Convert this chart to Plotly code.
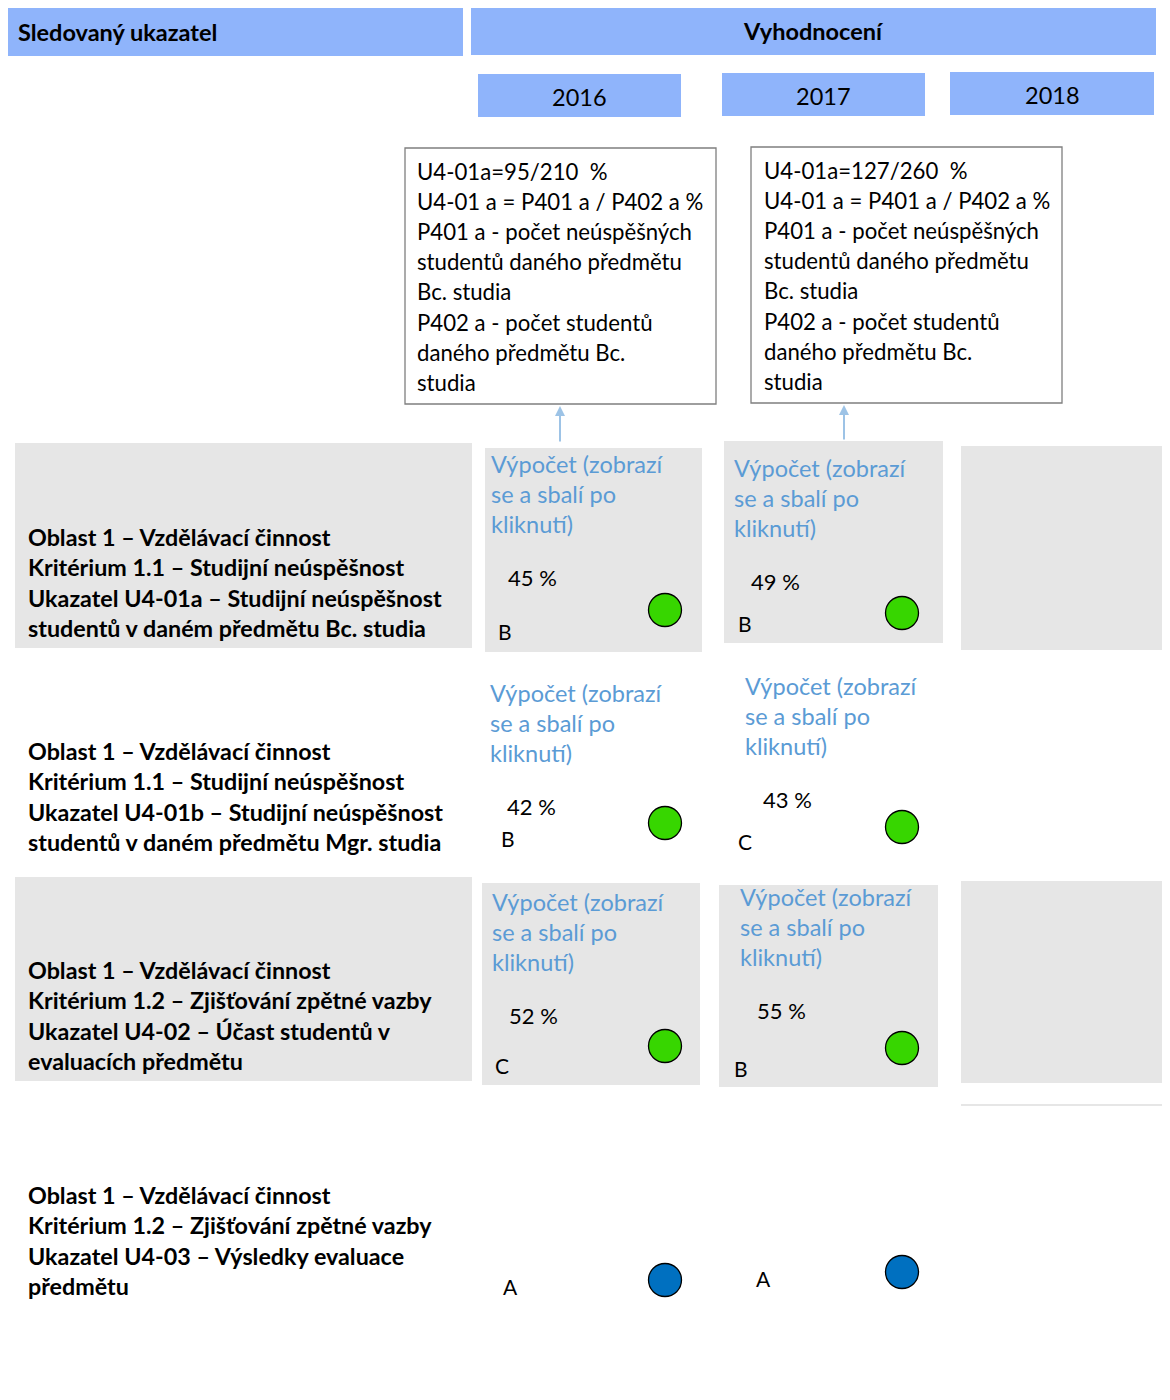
import plotly.graph_objects as go

# ---------------- data ----------------
years = ["2016", "2017", "2018"]
indicator_labels = [
    ["Oblast 1 – Vzdělávací činnost", "Kritérium 1.1 – Studijní neúspěšnost",
     "Ukazatel U4-01a – Studijní neúspěšnost", "studentů v daném předmětu Bc. studia"],
    ["Oblast 1 – Vzdělávací činnost", "Kritérium 1.1 – Studijní neúspěšnost",
     "Ukazatel U4-01b – Studijní neúspěšnost", "studentů v daném předmětu Mgr. studia"],
    ["Oblast 1 – Vzdělávací činnost", "Kritérium 1.2 – Zjišťování zpětné vazby",
     "Ukazatel U4-02 – Účast studentů v", "evaluacích předmětu"],
    ["Oblast 1 – Vzdělávací činnost", "Kritérium 1.2 – Zjišťování zpětné vazby",
     "Ukazatel U4-03 – Výsledky evaluace", "předmětu"],
]
pct_2016 = [45, 42, 52, None]
pct_2017 = [49, 43, 55, None]
grade_2016 = ["B", "B", "C", "A"]
grade_2017 = ["B", "C", "B", "A"]
status_2016 = ["green", "green", "green", "blue"]
status_2017 = ["green", "green", "green", "blue"]
calc_text = ["Výpočet (zobrazí", "se a sbalí po", "kliknutí)"]
formula_2016 = ["U4-01a=95/210  %", "U4-01 a = P401 a / P402 a %", "P401 a - počet neúspěšných",
                "studentů daného předmětu", "Bc. studia", "P402 a - počet studentů",
                "daného předmětu Bc.", "studia"]
formula_2017 = ["U4-01a=127/260  %", "U4-01 a = P401 a / P402 a %", "P401 a - počet neúspěšných",
                "studentů daného předmětu", "Bc. studia", "P402 a - počet studentů",
                "daného předmětu Bc.", "studia"]

# ---------------- styles ----------------
HDR = "#8FB4FB"
GRAY = "#E6E6E6"
BLUE_TXT = "#5B9BD5"
STATUS_COL = {"green": "#37D600", "blue": "#0070C0"}
FONT = "Lato"

# page body has an 8px margin; map data coords to page pixels
OFF = 8
W, H = 1170, 1400
fig = go.Figure()
shapes = []
ann = []


def rect(x0, y0, x1, y1, fill, line=None, lw=0):
    shapes.append(dict(type="rect", xref="x", yref="y", x0=x0, x1=x1, y0=y0, y1=y1,
                       fillcolor=fill, line=dict(color=line or fill, width=lw), layer="below"))


def text(x, y, s, size=21, color="#000", bold=False, anchor="left"):
    if bold:
        s = "<b>" + s + "</b>"
    ann.append(dict(x=x - (2 if anchor == "left" else 0), y=y, xref="x", yref="y", text=s,
                    showarrow=False, xanchor=anchor, yanchor="middle",
                    font=dict(family=FONT, size=size, color=color)))


# header
rect(5, 7, 463, 56, HDR)
rect(471, 7, 1156, 55, HDR)
text(18, 32, "Sledovaný ukazatel", 23.5, bold=True)
text(813, 31, "Vyhodnocení", 23.5, bold=True, anchor="center")
year_boxes = [(478, 74, 681, 117), (722, 73, 925, 116), (950, 72, 1154, 115)]
for (x0, y0, x1, y1), yr in zip(year_boxes, years):
    rect(x0, y0, x1, y1, HDR)
    text((x0 + x1) / 2, (y0 + y1) / 2 + 1, yr, 23.5, anchor="center")

# formula boxes
for (x0, y0, x1, y1), lines, tx, ty in [((405, 148, 716, 404), formula_2016, 417, 171),
                                        ((751, 147, 1062, 403), formula_2017, 764, 170)]:
    shapes.append(dict(type="rect", xref="x", yref="y", x0=x0, x1=x1, y0=y0, y1=y1,
                       fillcolor="white", line=dict(color="#7F7F7F", width=1.3)))
    for i, l in enumerate(lines):
        text(tx, ty + i * 30.2, l, 22.2)

# arrows
for ax, ay0, ay1 in [(560, 443, 406), (844, 441, 405)]:
    ann.append(dict(x=ax, y=ay1, ax=ax, ay=ay0, xref="x", yref="y", axref="x", ayref="y",
                    text="", showarrow=True, arrowhead=2, arrowsize=1, arrowwidth=2,
                    arrowcolor="#9DC3E6"))

# gray rows
gray_boxes = [
    (15, 443, 472, 648), (485, 448, 702, 652), (724, 441, 943, 643), (961, 446, 1170, 650),
    (15, 877, 472, 1081), (482, 883, 700, 1085), (719, 885, 938, 1087), (961, 881, 1170, 1083),
]
for b in gray_boxes:
    rect(*b, GRAY)
shapes.append(dict(type="line", xref="x", yref="y", x0=961, x1=1170, y0=1105, y1=1105,
                   line=dict(color="#E6E6E6", width=2)))

# left labels
label_y = [537, 751, 970, 1195]
for yy, lines in zip(label_y, indicator_labels):
    for i, l in enumerate(lines):
        text(28, yy + i * 30.3, l, 23.3, bold=True)

# calculation texts
calc_pos_2016 = [(491, 464), (490, 693), (492, 902)]
calc_pos_2017 = [(734, 468), (745, 686), (740, 897)]
for (cx, cy) in calc_pos_2016 + calc_pos_2017:
    for i, l in enumerate(calc_text):
        text(cx, cy + i * 30, l, 23.5, color=BLUE_TXT)

# percentages
pct_pos_2016 = [(508, 577), (507, 806), (509, 1015)]
pct_pos_2017 = [(751, 581), (763, 799), (757, 1010)]
for (px, py), v in zip(pct_pos_2016, pct_2016):
    if v is not None:
        text(px, py, f"{v} %", 22)
for (px, py), v in zip(pct_pos_2017, pct_2017):
    if v is not None:
        text(px, py, f"{v} %", 22)

# grades
grade_pos_2016 = [(498, 631), (501, 838), (495, 1065), (503, 1286)]
grade_pos_2017 = [(738, 623), (738, 841), (734, 1068), (756, 1278)]
for (gx, gy), g in zip(grade_pos_2016, grade_2016):
    text(gx, gy, g, 21)
for (gx, gy), g in zip(grade_pos_2017, grade_2017):
    text(gx, gy, g, 21)

# status circles
circ_x_2016 = [665, 665, 665, 665]
circ_y_2016 = [610, 823, 1046, 1280]
circ_x_2017 = [902, 902, 902, 902]
circ_y_2017 = [613, 827, 1048, 1272]
fig.add_trace(go.Scatter(
    x=circ_x_2016 + circ_x_2017, y=circ_y_2016 + circ_y_2017, mode="markers",
    marker=dict(size=33, color=[STATUS_COL[s] for s in status_2016 + status_2017],
                line=dict(color="black", width=1.3)),
    hoverinfo="skip", showlegend=False))

fig.update_layout(
    width=W - 2 * OFF, height=H - 2 * OFF, margin=dict(l=0, r=0, t=0, b=0),
    paper_bgcolor="white", plot_bgcolor="white",
    xaxis=dict(range=[OFF, W - OFF], visible=False, fixedrange=True),
    yaxis=dict(range=[H - OFF, OFF], visible=False, fixedrange=True),
    shapes=shapes, annotations=ann, showlegend=False,
)
fig.write_html("out.html")
